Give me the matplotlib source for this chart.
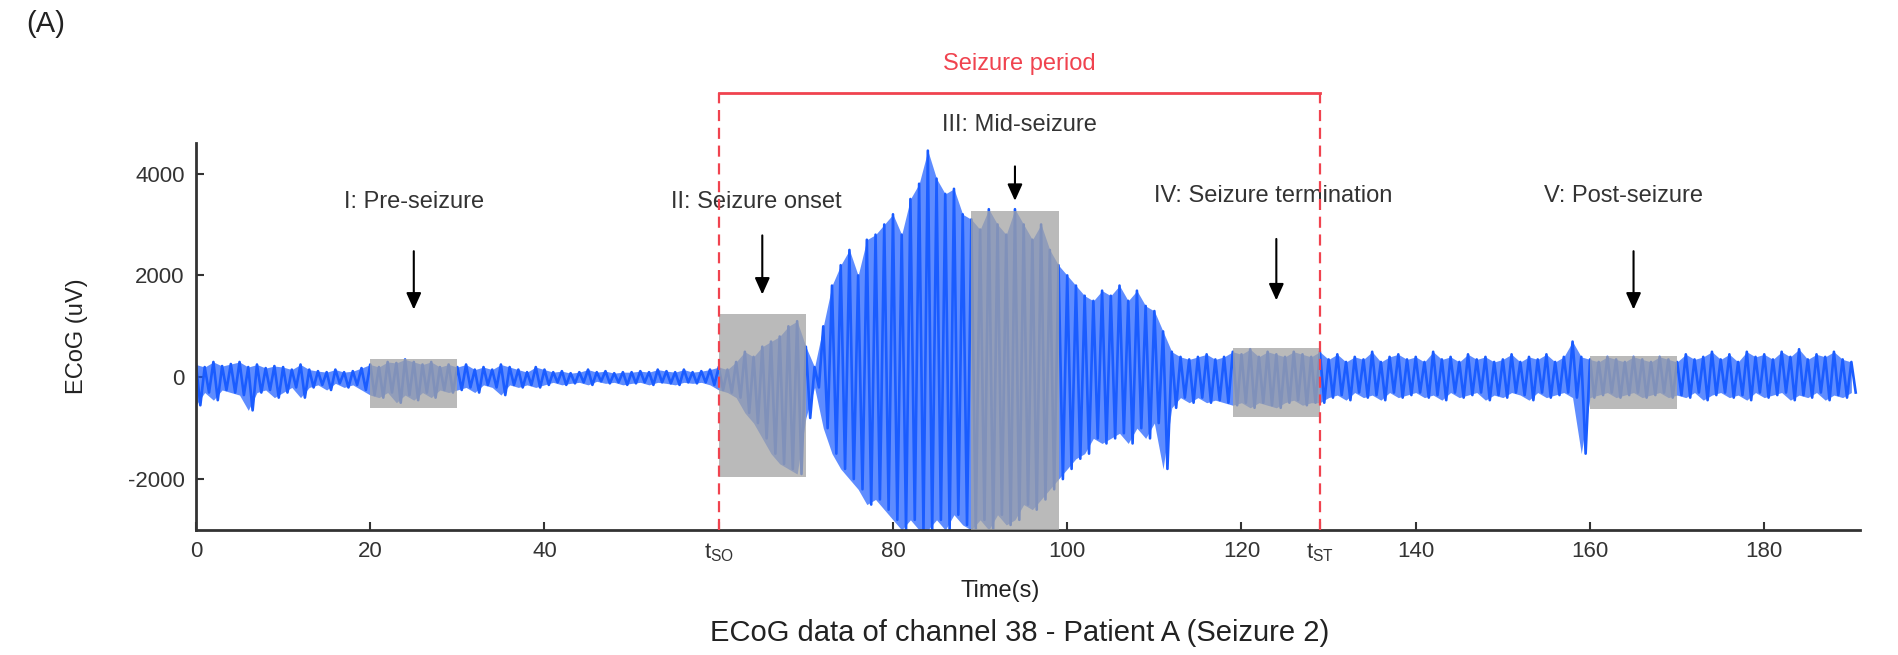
import numpy as np
import matplotlib
matplotlib.use("Agg")
from matplotlib import pyplot as plt
from matplotlib.patches import Rectangle

plt.rcParams['font.family'] = ['Liberation Sans', 'DejaVu Sans']
plt.rcParams['mathtext.fontset'] = 'custom'
plt.rcParams['mathtext.rm'] = 'Liberation Sans'
plt.rcParams['axes.unicode_minus'] = False

# per-second upper / lower excursions of the ECoG trace (uV), t = 0..190 s
upper = [250, 200, 300, 220, 260, 300, 200, 250, 180, 220,
         200, 150, 250, 150, 120, 100, 150, 100, 120, 180,
         250, 200, 300, 280, 350, 300, 250, 300, 200, 250,
         200, 250, 150, 200, 150, 250, 200, 150, 100, 200,
         150, 100, 120, 80, 100, 150, 100, 120, 80, 100,
         100, 120, 100, 150, 120, 100, 150, 100, 120, 150,
         200, 150, 300, 500, 400, 600, 700, 800, 1000, 1100,
         600, 200, 1000, 1800, 2200, 2500, 2000, 2700, 2800, 3000,
         3200, 2800, 3500, 3800, 4450, 3900, 3600, 3700, 3200, 3100,
         2900, 3300, 3000, 2800, 3300, 3000, 2700, 3000, 2500, 2200,
         2000, 1800, 1600, 1500, 1700, 1600, 1800, 1500, 1700, 1400,
         1300, 900, 500, 400, 350, 400, 450, 350, 400, 500,
         450, 550, 400, 500, 450, 400, 500, 450, 400, 500,
         350, 450, 300, 400, 350, 500, 300, 400, 450, 350,
         400, 300, 500, 350, 400, 300, 450, 350, 400, 300,
         350, 450, 300, 400, 350, 450, 300, 400, 700, 400,
         350, 300, 400, 350, 300, 400, 350, 300, 400, 350,
         300, 450, 350, 400, 500, 350, 450, 300, 500, 400,
         450, 350, 500, 400, 550, 350, 450, 400, 500, 350, 300]
lower = [-550, -300, -450, -250, -300, -350, -650, -300, -250, -400,
         -300, -200, -400, -200, -150, -250, -120, -200, -150, -250,
         -350, -400, -300, -500, -350, -450, -300, -400, -250, -300,
         -250, -200, -300, -150, -200, -350, -150, -200, -150, -200,
         -150, -100, -150, -120, -100, -150, -80, -120, -100, -150,
         -120, -100, -150, -100, -120, -150, -100, -120, -100, -150,
         -250, -300, -400, -700, -900, -1200, -1500, -1700, -1800, -1900,
         -800, -200, -1000, -1500, -1800, -2000, -2200, -2500, -2400, -2600,
         -2800, -3000, -2800, -3000, -3000, -2800, -3000, -2700, -2900, -3000,
         -2800, -3000, -2700, -2900, -2800, -2500, -2600, -2400, -2200, -2000,
         -1800, -1600, -1500, -1200, -1300, -1200, -1100, -1300, -1000, -1200,
         -900, -1800, -600, -400, -500, -400, -500, -450, -500, -550,
         -500, -600, -500, -550, -600, -500, -450, -550, -500, -500,
         -400, -350, -450, -300, -400, -350, -450, -300, -400, -350,
         -300, -400, -350, -450, -300, -400, -350, -300, -450, -350,
         -400, -300, -350, -450, -300, -400, -350, -300, -400, -1500,
         -400, -350, -300, -400, -350, -300, -400, -350, -300, -400,
         -350, -400, -300, -450, -350, -300, -400, -350, -450, -300,
         -400, -350, -300, -450, -350, -400, -300, -450, -350, -400, -300]

# analysis windows (s) and their shaded y-ranges (uV)
win_start = [20, 60, 89, 119, 160]
win_low = [-600, -1950, -3000, -780, -630]
win_high = [350, 1250, 3270, 580, 410]
win_names = ['I: Pre-seizure', 'II: Seizure onset', 'III: Mid-seizure',
             'IV: Seizure termination', 'V: Post-seizure']
label_x = [25, 64.3, 94.5, 123.6, 163.8]
label_y = [3440, 3440, 4950, 3560, 3560]
arrow_top = [2530, 2840, 4195, 2770, 2530]
arrow_tip = [1275, 1570, 3410, 1455, 1275]

t_so, t_st = 60, 129

# zigzag between the per-second extremes
t = np.arange(len(upper))
x = np.column_stack([t, t + 0.5]).ravel()
y = np.column_stack([upper, lower]).ravel()

fig = plt.figure(figsize=(18.99, 6.55), dpi=100)
ax = fig.add_axes([0.1032, 0.1908, 0.8763, 0.5909])

blue = '#1a5cff'
ax.fill_between(t, lower, upper, color=blue, alpha=0.7, lw=0, zorder=2)
ax.plot(x, y, color=blue, lw=1.9, zorder=2)

for s, lo, hi in zip(win_start, win_low, win_high):
    ax.add_patch(Rectangle((s, lo), 10, hi - lo, facecolor='#a3a3a3',
                           edgecolor='none', alpha=0.75, zorder=3))

for s, name, lx, ly, a0, a1 in zip(win_start, win_names, label_x, label_y,
                                   arrow_top, arrow_tip):
    ax.text(lx, ly, name, ha='center', va='center', fontsize=17,
            color='#333333', clip_on=False)
    ax.annotate('', xy=(s + 5, a1), xytext=(s + 5, a0),
                arrowprops=dict(arrowstyle='-|>,head_width=0.45,head_length=1.0',
                                color='black', lw=1.5), annotation_clip=False)

red = '#f0434f'
top_y = 5580
ax.plot([t_so, t_st], [top_y, top_y], color=red, lw=2, clip_on=False, zorder=4)
ax.plot([t_so, t_so], [-3000, top_y], color=red, lw=1.6, ls=(0, (5, 3)),
        clip_on=False, zorder=4)
ax.plot([t_st, t_st], [-3000, top_y], color=red, lw=1.6, ls=(0, (5, 3)),
        clip_on=False, zorder=4)
ax.text((t_so + t_st) / 2, 6150, 'Seizure period', ha='center', va='center',
        fontsize=17, color=red, clip_on=False)

ax.set_xlim(0, 191)
ax.set_ylim(-3000, 4600)
ticks = [0, 20, 40, t_so, 80, 100, 120, t_st, 140, 160, 180]
ax.set_xticks(ticks)
ax.set_xticklabels(['0', '20', '40', r'$\mathrm{t_{SO}}$', '80', '100', '120',
                    r'$\mathrm{t_{ST}}$', '140', '160', '180'])
for lab, tk in zip(ax.get_xticklabels(), ticks):
    if tk in (t_so, t_st):
        lab.set_color(red)
ax.set_yticks([-2000, 0, 2000, 4000])

ax.spines['top'].set_visible(False)
ax.spines['right'].set_visible(False)
for sp in ('left', 'bottom'):
    ax.spines[sp].set_linewidth(2)
    ax.spines[sp].set_color('#333333')
ax.tick_params(direction='in', length=6, width=1.5, labelsize=16,
               colors='#333333', pad=8)

ax.set_xlabel('Time(s)', fontsize=17, color='#222222')
ax.xaxis.set_label_coords(0.483, -0.13)
ax.set_ylabel('ECoG (uV)', fontsize=17, color='#222222')
ax.yaxis.set_label_coords(-0.065, 0.5)

fig.text(0.537, 0.033, 'ECoG data of channel 38 - Patient A (Seizure 2)',
         ha='center', va='center', fontsize=21, color='#222222')
fig.text(0.014, 0.963, '(A)', ha='left', va='center', fontsize=21, color='#222222')

fig.savefig('out.png', dpi=100)
